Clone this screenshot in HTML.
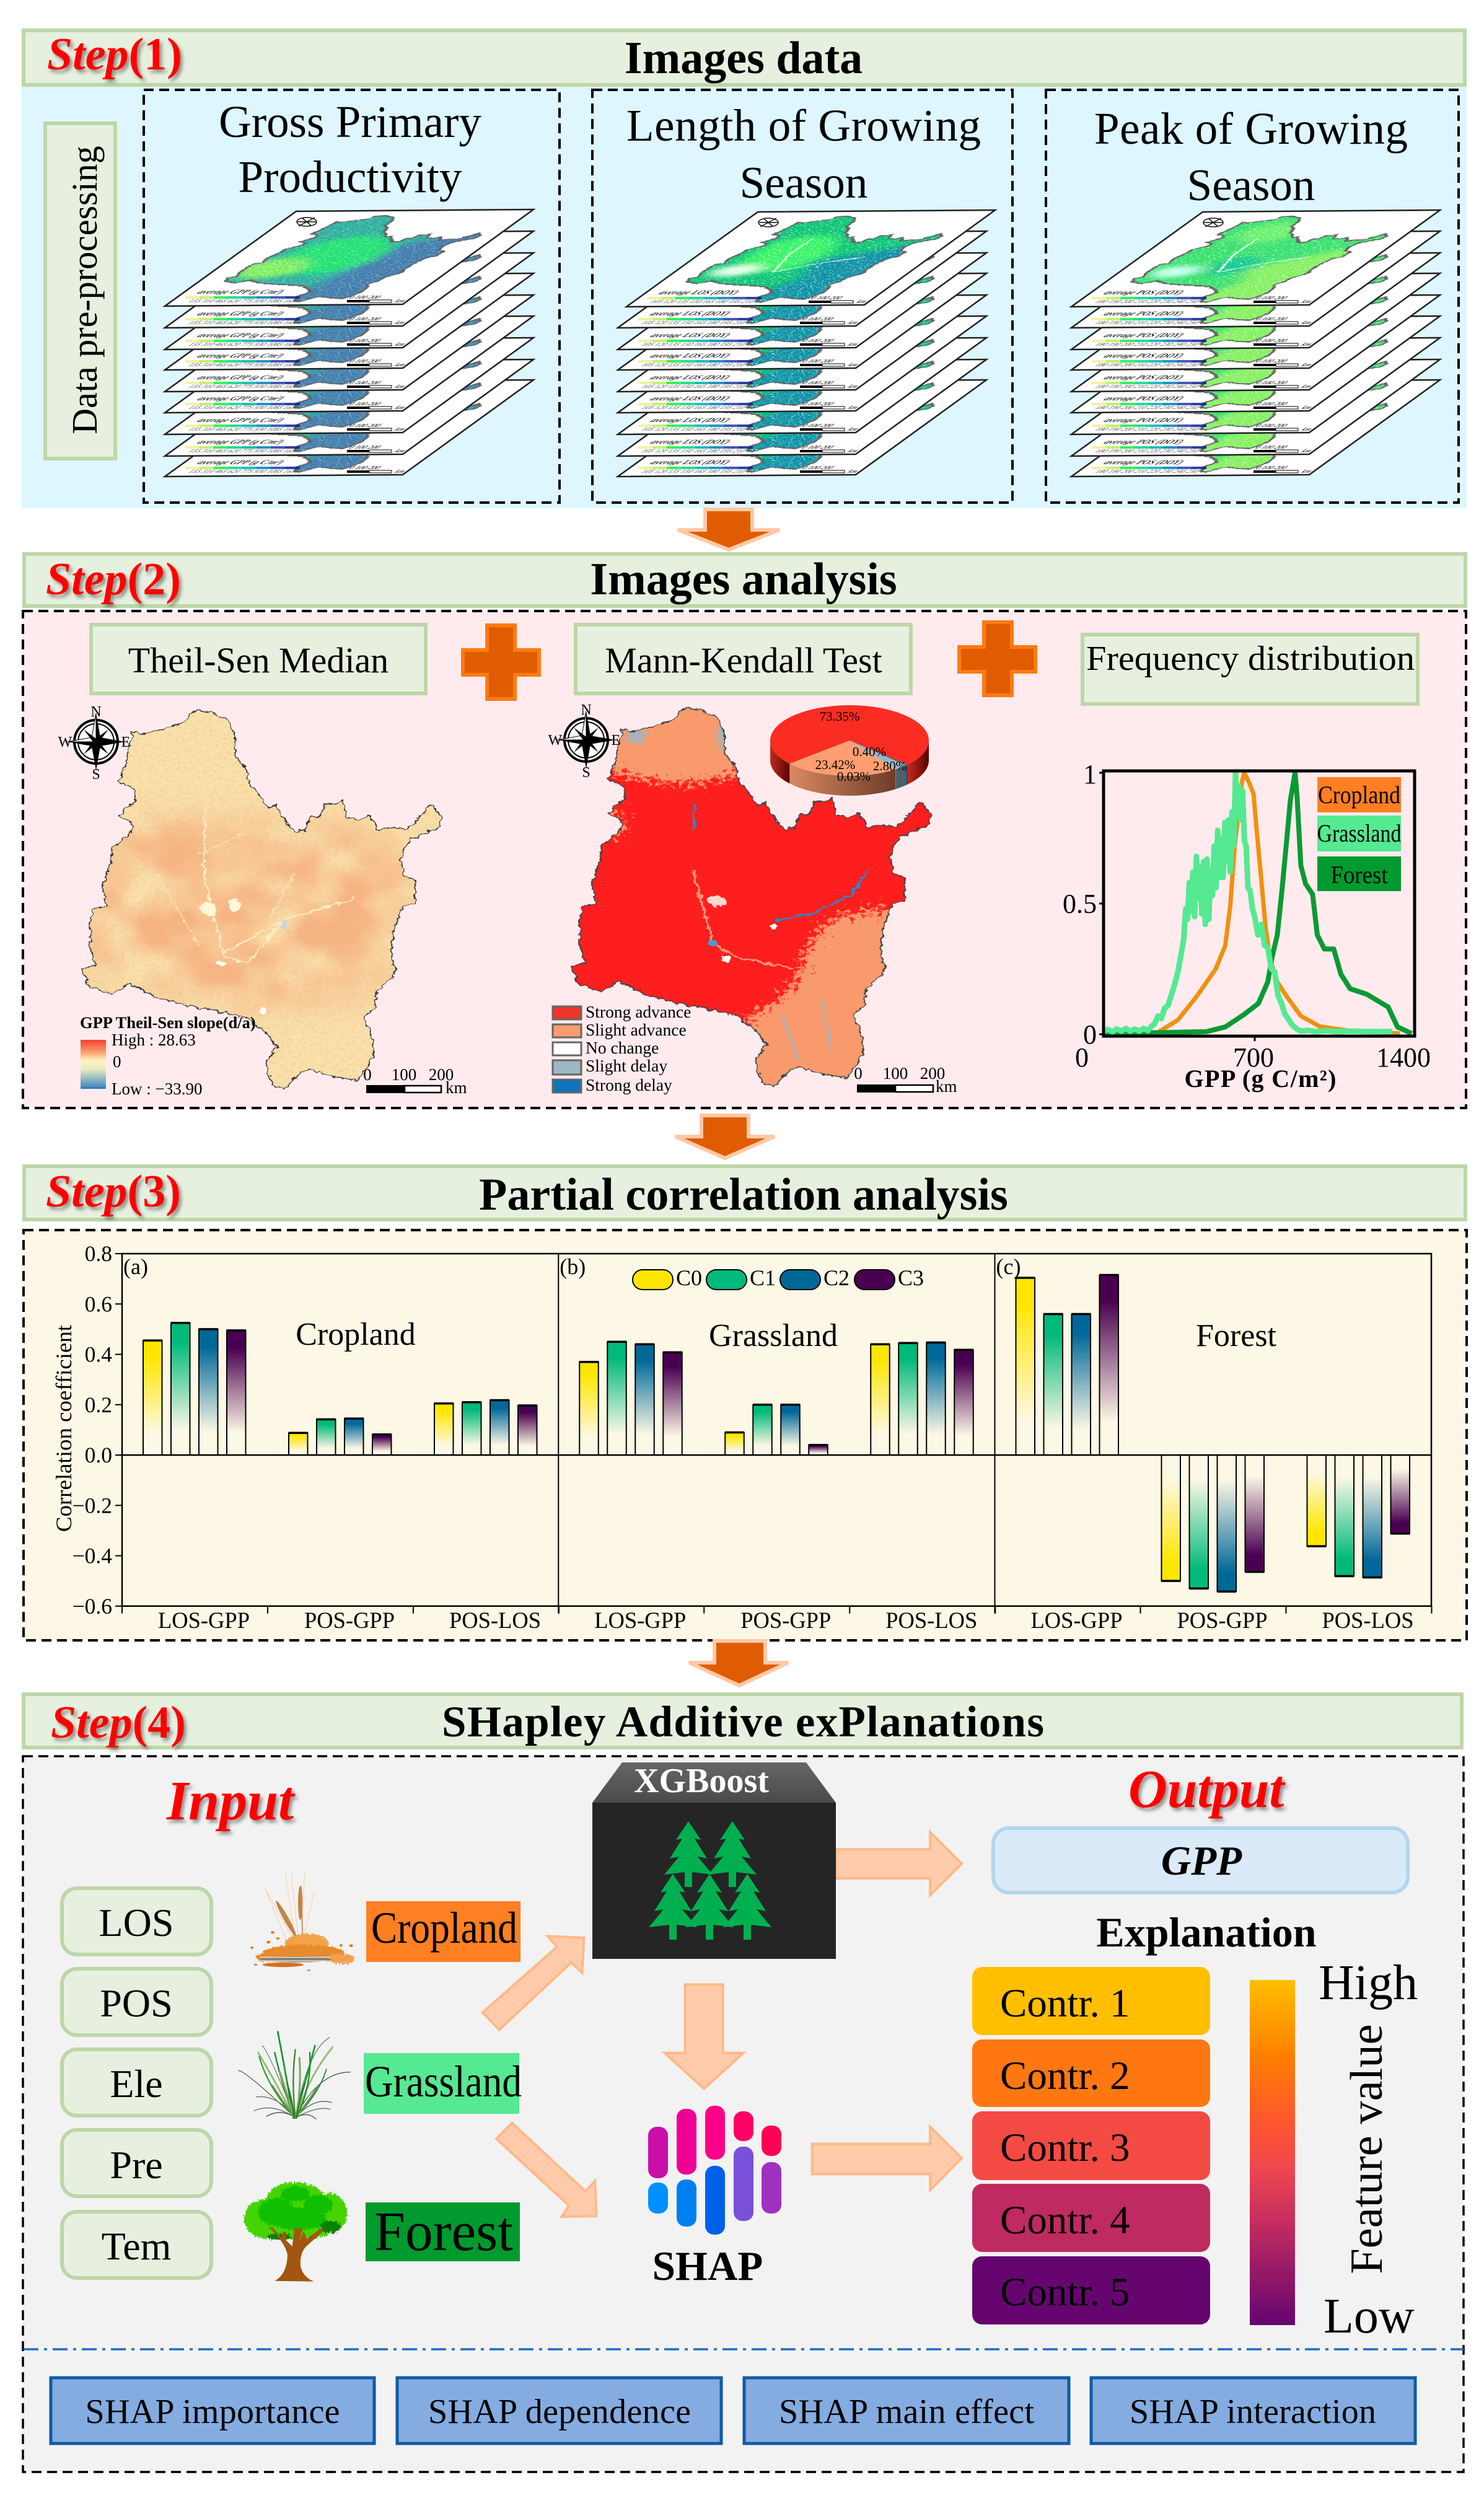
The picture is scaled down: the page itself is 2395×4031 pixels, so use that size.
<!DOCTYPE html>
<html lang="en"><head><meta charset="utf-8"><title>Workflow of GPP phenology analysis</title>
<style>
html,body{margin:0;padding:0;background:#fff}
svg{display:block;font-family:"Liberation Serif","Noto Serif CJK SC",serif}
.b{font-weight:bold}.hdr{fill:#E6F0DF;stroke:#BDD7A8;stroke-width:6}
.box{fill:#E7F0DF;stroke:#BDD7A8;stroke-width:6}
.dash{fill:none;stroke:#000;stroke-width:4;stroke-dasharray:16 9}
.arrow-l{fill:#FFCBAA;stroke:#FFB98A;stroke-width:5}
.arrow-d{fill:#E05C00;stroke:#FFC9A6;stroke-width:6}
.plus{fill:#E05C00;stroke:#FF7A12;stroke-width:6}
.step{fill:#F00;font-weight:bold;font-size:74px;filter:url(#shadow)}
.m{text-anchor:middle}
</style></head><body>
<svg id="canvas" xmlns="http://www.w3.org/2000/svg" width="2395" height="4031" viewBox="0 0 2395 4031">
<defs>
<filter id="shadow" x="-10%" y="-20%" width="125%" height="150%"><feDropShadow dx="4" dy="5" stdDeviation="3" flood-color="#000" flood-opacity=".4"/></filter>
<filter id="blur" x="-60%" y="-60%" width="220%" height="220%"><feGaussianBlur stdDeviation="28"/></filter>
<filter id="edge" x="-5%" y="-5%" width="110%" height="110%" color-interpolation-filters="sRGB"><feTurbulence type="fractalNoise" baseFrequency=".07" numOctaves="3" seed="9" result="n"/><feDisplacementMap in="SourceGraphic" in2="n" scale="16" xChannelSelector="R" yChannelSelector="G"/></filter>
<filter id="leafy" x="-8%" y="-8%" width="116%" height="116%" color-interpolation-filters="sRGB"><feTurbulence type="fractalNoise" baseFrequency=".12" numOctaves="2" seed="5" result="n"/><feDisplacementMap in="SourceGraphic" in2="n" scale="26" xChannelSelector="R" yChannelSelector="G"/></filter>
<filter id="clouds-orange" x="-20%" y="-20%" width="140%" height="140%" color-interpolation-filters="sRGB"><feGaussianBlur in="SourceAlpha" stdDeviation="45" result="b"/><feTurbulence type="fractalNoise" baseFrequency=".009" numOctaves="2" seed="11"/><feColorMatrix values="0 0 0 0 .96  0 0 0 0 .66  0 0 0 0 .48  2.2 0 0 0 -.45"/><feComposite in2="b" operator="in"/></filter>
<filter id="speck-orange" x="0" y="0" width="100%" height="100%" color-interpolation-filters="sRGB"><feTurbulence type="fractalNoise" baseFrequency=".14" numOctaves="2" seed="3"/><feColorMatrix values="0 0 0 0 .97  0 0 0 0 .72  0 0 0 0 .5  3 0 0 0 -1.35"/></filter>
<filter id="speck-dark" x="0" y="0" width="100%" height="100%" color-interpolation-filters="sRGB"><feTurbulence type="fractalNoise" baseFrequency=".1" numOctaves="2" seed="6"/><feColorMatrix values="0 0 0 0 .2  0 0 0 0 .4  0 0 0 0 .65  3.2 0 0 0 -1.4"/></filter>
<filter id="speck-white" x="0" y="0" width="100%" height="100%" color-interpolation-filters="sRGB"><feTurbulence type="fractalNoise" baseFrequency=".12" numOctaves="2" seed="8"/><feColorMatrix values="0 0 0 0 .85  0 0 0 0 1  0 0 0 0 .85  6 0 0 0 -3.5"/></filter>
<filter id="patchy-salmon" x="-20%" y="-20%" width="140%" height="140%" color-interpolation-filters="sRGB"><feGaussianBlur in="SourceAlpha" stdDeviation="38" result="b"/><feTurbulence type="fractalNoise" baseFrequency=".1" numOctaves="4" seed="7"/><feColorMatrix values="0 0 0 0 0  0 0 0 0 0  0 0 0 0 0  0 1 0 0 0" result="na"/><feComposite in="b" in2="na" operator="arithmetic" k1="0" k2=".55" k3=".5" k4="0"/><feComponentTransfer result="mask"><feFuncA type="linear" slope="12" intercept="-5.7"/></feComponentTransfer><feFlood flood-color="#F99A6C"/><feComposite in2="mask" operator="in"/></filter>
<filter id="patchy-grey" x="-40%" y="-40%" width="180%" height="180%" color-interpolation-filters="sRGB"><feGaussianBlur in="SourceAlpha" stdDeviation="12" result="b"/><feTurbulence type="fractalNoise" baseFrequency=".12" numOctaves="3" seed="2"/><feColorMatrix values="0 0 0 0 0  0 0 0 0 0  0 0 0 0 0  0 1 0 0 0" result="na"/><feComposite in="b" in2="na" operator="arithmetic" k1="0" k2=".45" k3=".5" k4="0"/><feComponentTransfer result="mask"><feFuncA type="linear" slope="12" intercept="-5.7"/></feComponentTransfer><feFlood flood-color="#A4B4B8"/><feComposite in2="mask" operator="in"/></filter>
<polygon id="basin" points="405,455 445,458 480,480 495,520 495,575 520,620 525,655 550,690 565,720 582,715 600,755 622,788 645,785 655,745 675,748 683,712 705,712 722,700 732,750 755,755 780,742 800,785 830,775 860,780 885,745 910,712 930,745 928,775 895,790 860,815 845,860 848,900 878,925 875,985 845,1000 832,1060 825,1110 833,1180 795,1225 790,1270 765,1300 780,1330 790,1390 772,1440 755,1472 700,1460 655,1440 625,1460 600,1495 575,1485 560,1420 585,1380 560,1340 520,1300 455,1280 395,1265 330,1245 275,1205 235,1235 185,1210 175,1165 200,1155 190,1100 190,1040 195,1000 225,990 215,935 235,870 235,830 275,795 280,760 250,745 285,700 285,675 250,650 265,600 280,510 300,520 385,490"/>
<clipPath id="basin-clip"><use href="#basin"/></clipPath>
<linearGradient id="grad-theil" x1="0" y1="0" x2="0" y2="1"><stop offset="0" stop-color="#F2402F"/><stop offset=".25" stop-color="#F9A070"/><stop offset=".42" stop-color="#FFF2C0"/><stop offset=".6" stop-color="#E8ECC0"/><stop offset=".95" stop-color="#4F8FBF"/><stop offset="1" stop-color="#1277BC"/></linearGradient>
<linearGradient id="grad-feature" x1="0" y1="0" x2="0" y2="1"><stop offset="0" stop-color="#FFBF00"/><stop offset=".22" stop-color="#FF7F00"/><stop offset=".42" stop-color="#FF5530"/><stop offset=".55" stop-color="#EE4650"/><stop offset=".72" stop-color="#BF2A60"/><stop offset="1" stop-color="#660570"/></linearGradient>
<linearGradient id="facet" x1="0" y1="0" x2="0" y2="1"><stop offset="0" stop-color="#666"/><stop offset="1" stop-color="#4a4a4a"/></linearGradient>
<linearGradient id="wall-salmon" x1="0" y1="0" x2="1" y2="0"><stop offset="0" stop-color="#D88A60"/><stop offset="1" stop-color="#6E3B28"/></linearGradient>
<linearGradient id="wall-red" x1="0" y1="0" x2="1" y2="0"><stop offset="0" stop-color="#C42A1C"/><stop offset="1" stop-color="#580404"/></linearGradient>
<g id="map-gpp">
<g filter="url(#edge)">
<use href="#basin" fill="#30B8A0"/>
<g clip-path="url(#basin-clip)"><g filter="url(#blur)">
<polygon points="560,900 950,650 900,1000 800,1500 500,1500 620,1150" fill="#4480B0"/>
<ellipse cx="470" cy="930" rx="190" ry="230" fill="#22F070"/>
<ellipse cx="290" cy="1070" rx="130" ry="120" fill="#90FF60"/>
</g>
<rect x="170" y="450" width="770" height="1050" filter="url(#speck-dark)" opacity=".4"/>
<rect x="170" y="450" width="770" height="1050" filter="url(#speck-white)" opacity=".6"/>
</g>
<use href="#basin" fill="none" stroke="#666" stroke-width="12"/>
</g>
</g>
<g id="map-los">
<g filter="url(#edge)">
<use href="#basin" fill="#0CC478"/>
<g clip-path="url(#basin-clip)"><g filter="url(#blur)">
<polygon points="560,1000 950,800 900,1000 800,1500 500,1500 620,1200" fill="#1090A8"/>
<ellipse cx="430" cy="900" rx="150" ry="220" fill="#38F468"/>
<ellipse cx="310" cy="1090" rx="90" ry="70" fill="#E6FFE8"/>
</g>
<rect x="170" y="450" width="770" height="1050" filter="url(#speck-white)"/>
</g>
<path d="M432 720L430 900L470 1120L600 1030L750 970" fill="none" stroke="#D8FFE0" stroke-width="8"/>
<use href="#basin" fill="none" stroke="#666" stroke-width="12"/>
</g>
</g>
<g id="map-pos">
<g filter="url(#edge)">
<use href="#basin" fill="#38E070"/>
<g clip-path="url(#basin-clip)"><g filter="url(#blur)">
<polygon points="560,1100 880,850 880,1000 800,1500 500,1500 620,1250" fill="#86F060"/>
<ellipse cx="450" cy="650" rx="120" ry="120" fill="#6CF070"/>
<ellipse cx="300" cy="1100" rx="90" ry="70" fill="#C8FFF0"/>
<ellipse cx="500" cy="1050" rx="90" ry="110" fill="#14C890"/>
</g>
<rect x="170" y="450" width="770" height="1050" filter="url(#speck-white)"/>
</g>
<path d="M432 720L430 900L470 1120L600 1030L750 970" fill="none" stroke="#E4FFF0" stroke-width="8"/>
<use href="#basin" fill="none" stroke="#666" stroke-width="12"/>
</g>
</g>
<g id="sheet-legend-bar" opacity=".85">
<rect x="299" y="478" width="23" height="4" fill="#EEF090"/><rect x="322" y="478" width="23" height="4" fill="#B8F050"/><rect x="345" y="478" width="23" height="4" fill="#10F040"/><rect x="368" y="478" width="23" height="4" fill="#00D880"/><rect x="391" y="478" width="23" height="4" fill="#00B0B0"/><rect x="414" y="478" width="23" height="4" fill="#0080C0"/><rect x="437" y="478" width="23" height="4" fill="#2040B0"/><rect x="460" y="478" width="24" height="4" fill="#102090"/>
</g>
<g id="sheet-base">
<polygon points="478,341 861,338 650,491 266,494" fill="#fff" stroke="#222" stroke-width="2.5"/>
</g>
<g id="sheet-extras">
<use href="#sheet-legend-bar"/>
<rect x="560" y="484" width="36" height="4" fill="#000"/><rect x="596" y="484" width="36" height="4" fill="#fff" stroke="#000"/>
<text transform="matrix(1 0 -.8 .65 562 482)" font-size="12" font-style="italic">0    100    200</text>
<text transform="matrix(1 0 -.8 .65 636 488)" font-size="12" font-style="italic">km</text>
<ellipse cx="495" cy="358" rx="16" ry="7" fill="#fff" stroke="#111" stroke-width="1.5"/>
<path d="M482 365L508 351M480 358L510 358M488 352L502 364" stroke="#111" stroke-width="1.5"/>
</g>
<g id="sheet-gpp">
<use href="#sheet-base"/><use href="#map-gpp" transform="matrix(.4266 -.0139 -.1992 .1357 525.8 292.4)"/><use href="#sheet-extras"/>
<text transform="matrix(1 0 -.8 .65 317 474)" font-size="15" font-style="italic" font-weight="bold" fill="#333">average GPP (g C/m²)</text>
<text transform="matrix(1 0 -.8 .65 303 488)" font-size="12" font-style="italic" fill="#555">155 310 465 620 775 930 1085 1634</text>
</g>
<g id="sheet-los">
<use href="#sheet-base"/><use href="#map-los" transform="matrix(.4266 -.0139 -.1992 .1357 525.8 292.4)"/><use href="#sheet-extras"/>
<text transform="matrix(1 0 -.8 .65 317 474)" font-size="15" font-style="italic" font-weight="bold" fill="#333">average LOS (DOY)</text>
<text transform="matrix(1 0 -.8 .65 303 488)" font-size="12" font-style="italic" fill="#555">105 120 135 150 165 180 195 210</text>
</g>
<g id="sheet-pos">
<use href="#sheet-base"/><use href="#map-pos" transform="matrix(.4266 -.0139 -.1992 .1357 525.8 292.4)"/><use href="#sheet-extras"/>
<text transform="matrix(1 0 -.8 .65 317 474)" font-size="15" font-style="italic" font-weight="bold" fill="#333">average POS (DOY)</text>
<text transform="matrix(1 0 -.8 .65 303 488)" font-size="12" font-style="italic" fill="#555">180 190 200 210 220 230 240 250</text>
</g>
<g id="compass">
<circle r="35" fill="#fff" stroke="#000" stroke-width="4"/><circle r="29" fill="none" stroke="#000" stroke-width="2"/>
<polygon points="0,-46 7,-7 46,0 7,7 0,46 -7,7 -46,0 -7,-7" fill="#000"/>
<polygon points="0,-46 0,0 46,0 0,0 0,46 0,0 -46,0 -7,-7" fill="#fff" stroke="#000"/>
<polygon points="20,-20 5,0 20,20 0,5 -20,20 -5,0 -20,-20 0,-5" fill="#000"/>
<text y="-41" class="m" font-size="24">N</text><text y="60" class="m" font-size="24">S</text><text x="-50" y="8" class="m" font-size="24">W</text><text x="48" y="8" class="m" font-size="24">E</text>
</g>
<polygon id="pine" points="0,0 20,30 10,28 30,60 15,57 39,86 6,82 6,106 -6,106 -6,82 -39,86 -15,57 -30,60 -10,28 -20,30" fill="#00B050"/>
</defs>

<rect width="2395" height="4031" fill="#fff"/>

<!-- STEP 1 -->
<g>
<rect x="35" y="139" width="2332" height="681" fill="#DDF6FF"/>
<rect x="38" y="49" width="2326" height="88" class="hdr"/>
<text x="76" y="112" class="step"><tspan font-style="italic">Step</tspan>(1)</text>
<text x="1200" y="118" font-size="74" class="b m">Images data</text>
<rect x="73" y="199" width="113" height="541" class="box"/>
<text transform="translate(156,468) rotate(-90)" font-size="58" class="m">Data pre-processing</text>
<rect x="232" y="145" width="671" height="666" class="dash"/>
<rect x="956" y="145" width="678" height="666" class="dash"/>
<rect x="1688" y="145" width="666" height="666" class="dash"/>
<text x="565" y="221" font-size="73" class="m">Gross Primary</text>
<text x="565" y="310" font-size="73" class="m">Productivity</text>
<text x="1297" y="227" font-size="73" class="m" textLength="572">Length of Growing</text>
<text x="1297" y="319" font-size="73" class="m">Season</text>
<text x="2019" y="232" font-size="73" class="m" textLength="506">Peak of Growing</text>
<text x="2019" y="323" font-size="73" class="m">Season</text>

<g>
<use href="#sheet-gpp" y="275"/>
<use href="#sheet-gpp" y="242"/>
<use href="#sheet-gpp" y="207"/>
<use href="#sheet-gpp" y="172"/>
<use href="#sheet-gpp" y="138"/>
<use href="#sheet-gpp" y="103"/>
<use href="#sheet-gpp" y="70"/>
<use href="#sheet-gpp" y="35"/>
<use href="#sheet-gpp"/>
</g>
<g>
<use href="#sheet-los" x="731" y="275"/>
<use href="#sheet-los" x="731" y="242"/>
<use href="#sheet-los" x="731" y="207"/>
<use href="#sheet-los" x="731" y="172"/>
<use href="#sheet-los" x="731" y="138"/>
<use href="#sheet-los" x="731" y="103"/>
<use href="#sheet-los" x="731" y="70"/>
<use href="#sheet-los" x="731" y="35"/>
<use href="#sheet-los" x="745" y="1"/>
</g>
<g>
<use href="#sheet-pos" x="1463" y="275"/>
<use href="#sheet-pos" x="1463" y="242"/>
<use href="#sheet-pos" x="1463" y="207"/>
<use href="#sheet-pos" x="1463" y="172"/>
<use href="#sheet-pos" x="1463" y="138"/>
<use href="#sheet-pos" x="1463" y="103"/>
<use href="#sheet-pos" x="1463" y="70"/>
<use href="#sheet-pos" x="1463" y="35"/>
<use href="#sheet-pos" x="1463" y="1"/>
</g>
</g>

<polygon class="arrow-d" points="1138,822 1214,822 1214,855 1258,855 1176,887 1094,855 1138,855"/>

<!-- STEP 2 -->
<g>
<rect x="37" y="986" width="2329" height="802" fill="#FFEBEE"/>
<rect x="37" y="986" width="2329" height="802" class="dash"/>
<rect x="39" y="894" width="2326" height="84" class="hdr"/>
<text x="74" y="959" class="step"><tspan font-style="italic">Step</tspan>(2)</text>
<text x="1200" y="959" font-size="74" class="b m">Images analysis</text>
<rect x="147" y="1008" width="540" height="111" class="box"/>
<text x="417" y="1085" font-size="58" class="m">Theil-Sen Median</text>
<rect x="929" y="1008" width="541" height="111" class="box"/>
<text x="1200" y="1085" font-size="58" class="m">Mann-Kendall Test</text>
<rect x="1747" y="1024" width="541" height="112" class="box"/>
<text x="2018" y="1081" font-size="56" class="m" textLength="530" lengthAdjust="spacingAndGlyphs">Frequency distribution</text>
<polygon class="plus" points="786,1009 831,1009 831,1049 870,1049 870,1089 831,1089 831,1128 786,1128 786,1089 747,1089 747,1049 786,1049"/>
<polygon class="plus" points="1588,1004 1633,1004 1633,1044 1671,1044 1671,1084 1633,1084 1633,1122 1588,1122 1588,1084 1548,1084 1548,1044 1588,1044"/>

<!-- Theil-Sen map -->
<g transform="translate(0,880) scale(.7651,.5869)">
<g filter="url(#edge)">
<use href="#basin" fill="#F9E2AC"/>
<g clip-path="url(#basin-clip)">
<polygon points="190,740 850,790 860,1010 790,1230 520,1270 180,1190" filter="url(#clouds-orange)" opacity=".8"/>
<rect x="170" y="450" width="770" height="1050" filter="url(#speck-orange)" opacity=".4"/>
<path d="M432 720L430 900L470 1120L600 1030L750 970M600 1030L520 1150L470 1130" fill="none" stroke="#F9EDC4" stroke-width="3.5"/>
<path d="M420 850L520 790M560 1050L620 900M330 900L420 1100" fill="none" stroke="#F9E0B0" stroke-width="3"/>
<ellipse cx="600" cy="1045" rx="6" ry="14" fill="#BFD8E4"/><ellipse cx="465" cy="1150" rx="10" ry="7" fill="#fff"/><circle cx="555" cy="1280" r="9" fill="#fff"/>
<ellipse cx="440" cy="1000" rx="16" ry="20" fill="#FFF5D8"/><ellipse cx="495" cy="990" rx="12" ry="20" fill="#FFF5D8"/>
</g>
<use href="#basin" fill="none" stroke="#333" stroke-width="2.5"/>
</g>
</g>
<use href="#compass" x="155" y="1197"/>
<text x="129" y="1659" font-size="26.5" class="b">GPP Theil-Sen slope(d/a)</text>
<rect x="130" y="1678" width="41" height="79" fill="url(#grad-theil)"/>
<text x="180" y="1687" font-size="27">High : 28.63</text>
<text x="182" y="1722" font-size="27">0</text>
<text x="180" y="1766" font-size="27">Low : −33.90</text>
<g>
<text x="593" y="1743" font-size="27" class="m">0</text><text x="652" y="1743" font-size="27" class="m">100</text><text x="712" y="1743" font-size="27" class="m">200</text>
<rect x="591" y="1751" width="62" height="13" fill="#000"/><rect x="653" y="1752" width="59" height="11" fill="#fff" stroke="#000" stroke-width="2.5"/>
<text x="719" y="1764" font-size="27">km</text>
</g>

<!-- Mann-Kendall map -->
<g transform="translate(790,876) scale(.7651,.5869)">
<g filter="url(#edge)">
<use href="#basin" fill="#FF1E1E"/>
<g clip-path="url(#basin-clip)">
<ellipse cx="400" cy="540" rx="210" ry="120" filter="url(#patchy-salmon)"/>
<polygon points="700,1040 880,990 860,1200 800,1520 520,1520 520,1320 630,1250" filter="url(#patchy-salmon)"/>
<ellipse cx="250" cy="770" rx="45" ry="50" filter="url(#patchy-salmon)"/>
<ellipse cx="495" cy="530" rx="16" ry="60" filter="url(#patchy-grey)"/>
<ellipse cx="310" cy="530" rx="24" ry="30" filter="url(#patchy-grey)"/>
<path d="M432 720L430 790M600 1040L680 1020L760 970L800 900" fill="none" stroke="#2F86C8" stroke-width="5"/>
<path d="M430 900L470 1100L520 1140L640 1170" fill="none" stroke="#F49878" stroke-width="5"/>
<path d="M620 1300L650 1420M700 1250L720 1400" fill="none" stroke="#9DB6C0" stroke-width="4"/>
<circle cx="470" cy="1100" r="9" fill="#4F98D0"/><circle cx="500" cy="1145" r="9" fill="#fff"/><circle cx="600" cy="1055" r="9" fill="#fff"/><ellipse cx="480" cy="985" rx="20" ry="14" fill="#FFD8D0"/>
</g>
<use href="#basin" fill="none" stroke="#444" stroke-width="3"/>
</g>
</g>
<use href="#compass" x="946" y="1194"/>
<g>
<rect x="892" y="1624" width="46" height="21" fill="#F0342A" stroke="#666" stroke-width="3"/><text x="945" y="1642" font-size="27.5">Strong advance</text>
<rect x="892" y="1653" width="46" height="21" fill="#FA9C70" stroke="#666" stroke-width="3"/><text x="945" y="1671" font-size="27.5">Slight advance</text>
<rect x="892" y="1682" width="46" height="21" fill="#fff" stroke="#666" stroke-width="3"/><text x="945" y="1700" font-size="27.5">No change</text>
<rect x="892" y="1711" width="46" height="23" fill="#9DB8C2" stroke="#666" stroke-width="3"/><text x="945" y="1729" font-size="27.5">Slight delay</text>
<rect x="892" y="1742" width="46" height="21" fill="#0F74BC" stroke="#666" stroke-width="3"/><text x="945" y="1760" font-size="27.5">Strong delay</text>
</g>
<g>
<text x="1385" y="1741" font-size="27" class="m">0</text><text x="1445" y="1741" font-size="27" class="m">100</text><text x="1505" y="1741" font-size="27" class="m">200</text>
<rect x="1383" y="1750" width="62" height="13" fill="#000"/><rect x="1445" y="1751" width="61" height="11" fill="#fff" stroke="#000" stroke-width="2.5"/>
<text x="1510" y="1762" font-size="27">km</text>
</g>
<g id="pie-chart"></g>
<g id="freq-chart"></g>
</g>

<polygon class="arrow-d" points="1132,1800 1208,1800 1208,1834 1250,1834 1170,1869 1090,1834 1132,1834"/>

<!-- STEP 3 -->
<g>
<rect x="38" y="1985" width="2329" height="662" fill="#FDF8E6"/>
<rect x="38" y="1985" width="2329" height="662" class="dash"/>
<rect x="39" y="1882" width="2326" height="86" class="hdr"/>
<text x="74" y="1947" class="step"><tspan font-style="italic">Step</tspan>(3)</text>
<text x="1200" y="1952" font-size="74" class="b m">Partial correlation analysis</text>
<defs id="bar-defs"></defs>
<g id="bar-chart"></g>
</g>

<polygon class="arrow-d" points="1153,2648 1235,2648 1235,2683 1272,2683 1193,2720 1112,2683 1153,2683"/>

<!-- STEP 4 -->
<g>
<rect x="37" y="2834" width="2325" height="1155" fill="#F2F2F2"/>
<rect x="37" y="2834" width="2325" height="1155" class="dash" style="stroke-width:3.5"/>
<rect x="38" y="2734" width="2321" height="86" class="hdr"/>
<text x="82" y="2804" class="step"><tspan font-style="italic">Step</tspan>(4)</text>
<text x="1199" y="2802" font-size="71" class="b m" textLength="972">SHapley Additive exPlanations</text>
<line x1="38" y1="3791" x2="2362" y2="3791" stroke="#1F6FC0" stroke-width="3.5" stroke-dasharray="24 9 5 9"/>
<text x="269" y="2936" font-size="90" class="b" font-style="italic" fill="#F00" filter="url(#shadow)">Input</text>
<text x="1821" y="2916" font-size="87" class="b" font-style="italic" fill="#F00" filter="url(#shadow)">Output</text>

<rect x="100" y="3047" width="241" height="107" rx="24" class="box"/><text x="220" y="3124" font-size="64" class="m">LOS</text>
<rect x="100" y="3177" width="241" height="107" rx="24" class="box"/><text x="220" y="3254" font-size="64" class="m">POS</text>
<rect x="100" y="3307" width="241" height="107" rx="24" class="box"/><text x="220" y="3384" font-size="64" class="m">Ele</text>
<rect x="100" y="3437" width="241" height="107" rx="24" class="box"/><text x="220" y="3515" font-size="64" class="m">Pre</text>
<rect x="100" y="3569" width="241" height="107" rx="24" class="box"/><text x="220" y="3646" font-size="64" class="m">Tem</text>

<!-- icons drawn in a local frame -->
<g transform="translate(380,3000) scale(.3333,.4464)">
<g>
<path d="M290 300L240 40M320 300L335 45M305 290L270 50M330 290L380 120M280 290L135 95M250 300L150 120" fill="none" stroke="#F3D9B8" stroke-width="4"/>
<path d="M325 290L318 100M300 285L200 155" fill="none" stroke="#C08A5A" stroke-width="5"/>
<ellipse cx="314" cy="158" rx="11" ry="62" fill="#C2844A"/>
<ellipse cx="245" cy="215" rx="11" ry="80" fill="#C2844A" transform="rotate(-37 245 215)"/>
<g filter="url(#leafy)">
<ellipse cx="345" cy="305" rx="105" ry="36" fill="#F2A24A"/>
<ellipse cx="330" cy="340" rx="200" ry="30" fill="#E98A2C"/>
<ellipse cx="510" cy="360" rx="70" ry="18" fill="#F0A050"/>
<ellipse cx="150" cy="355" rx="55" ry="14" fill="#E98A2C"/>
</g>
<ellipse cx="290" cy="362" rx="175" ry="11" fill="#8C8074"/>
<path d="M120 355H460M125 368H450" stroke="#F0ECE6" stroke-width="3"/>
<ellipse cx="230" cy="382" rx="100" ry="8" fill="#D86F1C"/>
<ellipse cx="180" cy="265" rx="9" ry="5" fill="#E87720"/><ellipse cx="160" cy="300" rx="10" ry="5" fill="#E87720"/><ellipse cx="205" cy="287" rx="9" ry="4" fill="#E87720"/><ellipse cx="80" cy="320" rx="8" ry="4" fill="#E87720"/><ellipse cx="560" cy="313" rx="9" ry="5" fill="#E87720"/><ellipse cx="511" cy="312" rx="7" ry="5" fill="#E87720"/><ellipse cx="355" cy="402" rx="8" ry="3" fill="#E87720"/><ellipse cx="98" cy="382" rx="9" ry="4" fill="#C89060"/>
</g>
<g fill="none" stroke-linecap="round">
<path d="M290 935Q40 760 15 765" stroke="#3F5F3F" stroke-width="3"/><path d="M290 935Q400 770 555 770" stroke="#3F5F3F" stroke-width="3"/>
<path d="M290 935Q150 680 130 675" stroke="#4F6F4F" stroke-width="3"/><path d="M290 935Q350 690 455 645" stroke="#4F6F4F" stroke-width="3"/>
<path d="M290 935Q180 880 90 910" stroke="#4A6A4A" stroke-width="3"/><path d="M290 935Q380 860 465 880" stroke="#4A6A4A" stroke-width="3"/>
<path d="M290 935Q200 850 100 860" stroke="#5A7A5A" stroke-width="3"/><path d="M290 935Q400 890 460 905" stroke="#5A7A5A" stroke-width="3"/>
<path d="M290 935Q220 900 150 930" stroke="#3A5A3A" stroke-width="3"/><path d="M290 935Q350 910 390 940" stroke="#3A5A3A" stroke-width="3"/>
<path d="M280 935Q240 760 205 625" stroke="#13982A" stroke-width="8"/>
<path d="M285 935Q190 800 110 700" stroke="#9ABB74" stroke-width="8"/>
<path d="M295 935Q350 790 470 680" stroke="#9ABB74" stroke-width="8"/>
<path d="M290 935Q340 800 385 675" stroke="#17A030" stroke-width="8"/>
<path d="M285 935Q230 830 190 700" stroke="#1E8C2A" stroke-width="7"/>
<path d="M295 935Q370 820 360 700" stroke="#1E8C2A" stroke-width="7"/>
<path d="M290 935Q270 800 290 690" stroke="#3A8A30" stroke-width="7"/>
<path d="M290 935Q160 830 115 715" stroke="#1E9A2A" stroke-width="6"/>
<path d="M292 935Q320 830 310 720" stroke="#80A860" stroke-width="9"/>
<path d="M285 935Q250 850 215 770" stroke="#80A860" stroke-width="9"/>
<path d="M290 935Q410 840 440 760" stroke="#2A7A2A" stroke-width="5"/>
<path d="M290 935Q230 880 180 820" stroke="#6E9450" stroke-width="7"/>
<path d="M290 935Q350 880 400 820" stroke="#6E9450" stroke-width="7"/>
<path d="M285 935Q275 870 250 810" stroke="#2A7A2A" stroke-width="7"/>
<path d="M295 935Q310 870 335 810" stroke="#2A7A2A" stroke-width="7"/>
</g>
<g>
<g filter="url(#leafy)">
<ellipse cx="150" cy="1300" rx="108" ry="72" fill="#46D400"/>
<ellipse cx="290" cy="1230" rx="140" ry="62" fill="#46D400"/>
<ellipse cx="450" cy="1280" rx="90" ry="72" fill="#46D400"/>
<ellipse cx="300" cy="1320" rx="200" ry="55" fill="#46D400"/>
<ellipse cx="200" cy="1275" rx="90" ry="50" fill="#10C000"/>
<ellipse cx="300" cy="1300" rx="140" ry="40" fill="#10C000"/>
<ellipse cx="400" cy="1250" rx="70" ry="36" fill="#10C000"/>
<ellipse cx="290" cy="1210" rx="70" ry="28" fill="#10C000"/>
<ellipse cx="460" cy="1330" rx="50" ry="22" fill="#0A8000"/>
<ellipse cx="210" cy="1365" rx="60" ry="12" fill="#0A8000"/>
</g>
<path d="M190 1525Q250 1500 252 1430Q240 1385 160 1330L180 1332L225 1370L230 1345L245 1350L245 1378L275 1400L285 1335L325 1335L310 1380L330 1345L345 1372L420 1332L425 1345L350 1395Q310 1420 315 1470Q325 1510 380 1527Z" fill="#A3560F"/>
</g>
</g>
<rect x="591" y="3068" width="249" height="98" fill="#FF7F22"/>
<text x="599" y="3135" font-size="72" textLength="236" lengthAdjust="spacingAndGlyphs">Cropland</text>
<rect x="587" y="3313" width="251" height="98" fill="#55E992"/>
<text x="589" y="3383" font-size="72" textLength="253" lengthAdjust="spacingAndGlyphs">Grassland</text>
<rect x="590" y="3554" width="249" height="95" fill="#009A2E"/>
<text x="604" y="3631" font-size="90" textLength="224" lengthAdjust="spacingAndGlyphs">Forest</text>

<g transform="translate(0,2700) scale(.7651,.8489)">
<polygon class="arrow-l" points="1018,645 1175,520 1155,500 1232,503 1228,570 1205,550 1053,678"/>
<polygon class="arrow-l" points="1080,855 1047,885 1200,1012 1185,1033 1258,1032 1255,965 1235,985"/>
<polygon class="arrow-l" points="1445,592 1525,592 1525,722 1568,722 1485,790 1402,722 1445,722"/>
</g>
<g transform="translate(1200,2700) scale(.7622,.8489)">
<polygon class="arrow-l" points="195,335 395,335 395,302 462,362 395,422 395,390 195,390"/>
<polygon class="arrow-l" points="145,895 395,895 395,862 462,922 395,983 395,952 145,952"/>
</g>

<g>
<polygon points="1004,2844 1301,2844 1349,2909 956,2909" fill="url(#facet)"/>
<rect x="956" y="2909" width="393" height="252" fill="#252525"/>
<text x="1132" y="2892" font-size="56" class="b m" fill="#fff">XGBoost</text>
<use href="#pine" x="1111" y="2939"/><use href="#pine" x="1182" y="2939"/>
<use href="#pine" x="1086" y="3024"/><use href="#pine" x="1145" y="3024"/><use href="#pine" x="1206" y="3024"/>
</g>

<g>
<rect x="1046" y="3432" width="32" height="83" rx="14" fill="#C90FA8"/><rect x="1046" y="3522" width="32" height="50" rx="14" fill="#0090FF"/>
<rect x="1092" y="3403" width="32" height="106" rx="14" fill="#EE0095"/><rect x="1092" y="3517" width="32" height="76" rx="14" fill="#0080F0"/>
<rect x="1138" y="3398" width="32" height="87" rx="14" fill="#FF0088"/><rect x="1138" y="3495" width="32" height="111" rx="14" fill="#0060E8"/>
<rect x="1184" y="3407" width="32" height="48" rx="14" fill="#FF0066"/><rect x="1184" y="3464" width="32" height="120" rx="14" fill="#7A50D8"/>
<rect x="1229" y="3430" width="32" height="49" rx="14" fill="#FF0055"/><rect x="1229" y="3489" width="32" height="83" rx="14" fill="#A030C0"/>
</g>
<text x="1142" y="3679" font-size="67" class="b m">SHAP</text>

<rect x="1603" y="2950" width="669" height="104" rx="25" fill="#DAEAF8" stroke="#B4D6EC" stroke-width="6"/>
<text x="1939" y="3025" font-size="67" class="b m" font-style="italic">GPP</text>
<text x="1947" y="3141" font-size="68" class="b m">Explanation</text>

<rect x="1569" y="3174" width="384" height="110" rx="16" fill="#FFBF00"/><text x="1614" y="3254" font-size="65">Contr. 1</text>
<rect x="1569" y="3291" width="384" height="109" rx="16" fill="#FF7710"/><text x="1614" y="3371" font-size="65">Contr. 2</text>
<rect x="1569" y="3407" width="384" height="111" rx="16" fill="#F44A44"/><text x="1614" y="3487" font-size="65">Contr. 3</text>
<rect x="1569" y="3524" width="384" height="110" rx="16" fill="#BF2A60"/><text x="1614" y="3604" font-size="65">Contr. 4</text>
<rect x="1569" y="3641" width="384" height="110" rx="16" fill="#660570"/><text x="1614" y="3720" font-size="65">Contr. 5</text>

<rect x="2017" y="3195" width="73" height="557" fill="url(#grad-feature)"/>
<text x="2128" y="3226" font-size="80">High</text>
<text x="2136" y="3764" font-size="80">Low</text>
<text transform="translate(2230,3468) rotate(-90)" font-size="74.5" class="m">Feature value</text>

<rect x="82" y="3837" width="522" height="106" fill="#84ACE0" stroke="#0F5BA6" stroke-width="5"/><text x="343" y="3910" font-size="56" class="m" textLength="411">SHAP importance</text>
<rect x="641" y="3837" width="523" height="106" fill="#84ACE0" stroke="#0F5BA6" stroke-width="5"/><text x="903" y="3910" font-size="56" class="m" textLength="424">SHAP dependence</text>
<rect x="1201" y="3837" width="524" height="106" fill="#84ACE0" stroke="#0F5BA6" stroke-width="5"/><text x="1463" y="3910" font-size="56" class="m" textLength="412">SHAP main effect</text>
<rect x="1761" y="3837" width="523" height="106" fill="#84ACE0" stroke="#0F5BA6" stroke-width="5"/><text x="2022" y="3910" font-size="56" class="m" textLength="398">SHAP interaction</text>
</g>
</svg>

<script>
// ---- pie data ----
const pieLabels = ['73.35%', '0.40%', '2.80%', '0.03%', '23.42%'];
const pieValues = [73.35, 0.40, 2.80, 0.03, 23.42];
const pieColors = ['#FB2C21', '#1B62A8', '#9DB6C0', '#FFFFFF', '#FF9E70'];
const pieWalls = ['url(#wall-red)', '#1B4468', '#4D5F68', '#BBBBBB', 'url(#wall-salmon)'];
const pieLabelSpots = [[1355, 1163], [1403, 1220], [1436, 1243], [1378, 1260], [1348, 1241]];

// ---- frequency chart data ----
const freqYTicks = [0, 0.5, 1];
const freqXTicks = [0, 700, 1400];
const cropGpp = [250, 335, 420, 505, 548, 570, 590, 601, 622, 633, 654, 675, 686, 707, 729, 750, 782, 824, 888, 973, 1100, 1334];
const cropFreq = [0.01, 0.055, 0.146, 0.25, 0.34, 0.49, 0.715, 0.8, 0.96, 1, 0.965, 0.92, 0.81, 0.62, 0.41, 0.285, 0.2, 0.145, 0.07, 0.03, 0.014, 0.003];
const grassGpp = [0, 20, 40, 60, 80, 100, 120, 140, 160, 180, 200, 215, 230, 245, 260, 275, 290, 305, 320, 335, 350, 360, 370, 378, 386, 394, 402, 410, 418, 426, 434, 442, 450, 458, 466, 474, 482, 490, 498, 506, 514, 522, 530, 538, 546, 554, 562, 570, 578, 586, 594, 602, 610, 618, 626, 634, 642, 650, 660, 670, 680, 695, 710, 725, 740, 755, 770, 785, 800, 815, 830, 850, 870, 890, 920, 960, 1000, 1050, 1100, 1200, 1300];
const grassFreq = [0.012, 0.018, 0.01, 0.02, 0.012, 0.022, 0.012, 0.02, 0.012, 0.022, 0.014, 0.03, 0.04, 0.07, 0.06, 0.1, 0.11, 0.15, 0.19, 0.24, 0.31, 0.36, 0.48, 0.44, 0.58, 0.47, 0.62, 0.45, 0.68, 0.52, 0.64, 0.46, 0.66, 0.42, 0.67, 0.44, 0.63, 0.53, 0.72, 0.56, 0.78, 0.6, 0.75, 0.6, 0.81, 0.66, 0.82, 0.62, 0.85, 0.72, 1, 0.84, 0.95, 0.82, 0.93, 0.74, 0.72, 0.56, 0.55, 0.48, 0.45, 0.38, 0.42, 0.34, 0.33, 0.25, 0.24, 0.15, 0.12, 0.08, 0.06, 0.035, 0.02, 0.012, 0.015, 0.01, 0.014, 0.01, 0.012, 0.01, 0.01];
const forestGpp = [0, 293, 463, 548, 633, 697, 739, 760, 782, 803, 824, 841, 862, 871, 888, 909, 941, 962, 994, 1036, 1068, 1110, 1185, 1281, 1323, 1387];
const forestFreq = [0.002, 0.007, 0.01, 0.028, 0.076, 0.118, 0.2, 0.3, 0.38, 0.55, 0.74, 0.896, 1, 0.91, 0.645, 0.576, 0.535, 0.38, 0.326, 0.326, 0.23, 0.174, 0.153, 0.104, 0.028, 0.003];

// ---- partial correlation data ----
const barYTicks = [0.8, 0.6, 0.4, 0.2, 0, -0.2, -0.4, -0.6];
const pairNames = ['LOS-GPP', 'POS-GPP', 'POS-LOS'];
const classNames = ['C0', 'C1', 'C2', 'C3'];
const classColors = ['#FFE600', '#00B97A', '#006898', '#4A0050'];
const panelNames = ['(a)', '(b)', '(c)'];
const croplandValues = [[0.455, 0.525, 0.50, 0.495], [0.088, 0.142, 0.145, 0.082], [0.205, 0.21, 0.218, 0.197]];
const grasslandValues = [[0.37, 0.45, 0.44, 0.408], [0.09, 0.20, 0.20, 0.04], [0.44, 0.445, 0.447, 0.418]];
const forestValues = [[0.704, 0.56, 0.56, 0.715], [-0.50, -0.53, -0.542, -0.464], [-0.362, -0.481, -0.486, -0.312]];

const NS = 'http://www.w3.org/2000/svg';
function mk(parent, tag, attrs, txt) {
  const e = document.createElementNS(NS, tag);
  for (const k in attrs) e.setAttribute(k, attrs[k]);
  if (txt !== undefined) e.textContent = txt;
  parent.appendChild(e);
  return e;
}

// ---------- PIE ----------
(function () {
  const g = document.getElementById('pie-chart');
  const cx = 1371, cy = 1195, rx = 128, ry = 57, depth = 32, startDeg = 139;
  const total = pieValues.reduce((a, b) => a + b, 0);
  const pt = (d, dy) => { const r = d * Math.PI / 180; return [cx + rx * Math.cos(r), cy + ry * Math.sin(r) + (dy || 0)]; };
  const spans = [];
  let a = startDeg;
  pieValues.forEach(v => { const b = a + v / total * 360; spans.push([a, b]); a = b; });
  function wall(i, a0, b0) {
    if (b0 <= a0) return;
    const p0 = pt(a0), p1 = pt(b0), p2 = pt(b0, depth), p3 = pt(a0, depth);
    const el = mk(g, 'path', { d: `M${p0}A${rx} ${ry} 0 0 1 ${p1}L${p2}A${rx} ${ry} 0 0 0 ${p3}Z`, fill: pieWalls[i] });
    
    
  }
  spans.forEach((s, i) => {
    wall(i, Math.max(s[0], 0), Math.min(s[1], 180));
    wall(i, Math.max(s[0], 360), Math.min(s[1], 540));
  });
  spans.forEach((s, i) => {
    const p0 = pt(s[0]), p1 = pt(s[1]);
    const big = s[1] - s[0] > 180 ? 1 : 0;
    const el = mk(g, 'path', { d: `M${cx} ${cy}L${p0}A${rx} ${ry} 0 ${big} 1 ${p1}Z`, fill: pieColors[i] });
    
    
  });
  pieLabels.forEach((t, i) => {
    const el = mk(g, 'text', { x: pieLabelSpots[i][0], y: pieLabelSpots[i][1], 'font-size': 21, 'text-anchor': 'middle' }, t);
    
    
  });
})();

// ---------- FREQUENCY ----------
(function () {
  const g = document.getElementById('freq-chart');
  const xs = v => 1781 + v * (2283 - 1781) / 1400;
  const ys = v => 1669 - v * (1669 - 1247);
  const line = (X, Y, col, w, name) => {
    const el = mk(g, 'polyline', { points: X.map((x, i) => xs(x) + ',' + ys(Y[i])).join(' '), fill: 'none', stroke: col, 'stroke-width': w, 'stroke-linejoin': 'round' });
    
    
  };
  line(cropGpp, cropFreq, '#F0900F', 7, 'cropland-line');
  line(forestGpp, forestFreq, '#0A9A34', 8, 'forest-line');
  line(grassGpp, grassFreq, '#55E992', 9, 'grassland-line');
  const frame = mk(g, 'rect', { x: 1781, y: 1244, width: 502, height: 428, fill: 'none', stroke: '#000', 'stroke-width': 5 });
  
  
  const yNudge = [15, 15, 17];
  freqYTicks.forEach((v, i) => {
    const t = mk(g, 'line', { x1: 1774, x2: 1781, y1: ys(v), y2: ys(v), stroke: '#000', 'stroke-width': 3 });
    
    
    const l = mk(g, 'text', { x: 1770, y: ys(v) + yNudge[i], 'font-size': 44, 'text-anchor': 'end' }, String(v));
    
    
  });
  const xNudge = [-35, -9, -18];
  freqXTicks.forEach((v, i) => {
    const l = mk(g, 'text', { x: xs(v) + xNudge[i], y: 1721, 'font-size': 44, 'text-anchor': 'middle' }, String(v));
    
    
  });
  const tick = mk(g, 'line', { x1: xs(700) - 7, x2: xs(700) - 7, y1: 1672, y2: 1680, stroke: '#000', 'stroke-width': 3 });
  
  
  const title = mk(g, 'text', { x: 2034, y: 1754, 'font-size': 40, 'font-weight': 'bold', 'text-anchor': 'middle', textLength: 245 }, 'GPP (g C/m²)');
  
  
  const legendRows = [['Cropland', '#FF7F22', 1254, 57, 1296, 133], ['Grassland', '#55E992', 1316, 58, 1358, 136], ['Forest', '#009A2E', 1382, 56, 1425, 92]];
  legendRows.forEach(r => {
    const b = mk(g, 'rect', { x: 2126, y: r[2], width: 135, height: r[3], fill: r[1] });
    
    
    const t = mk(g, 'text', { x: 2193.5 - r[5] / 2, y: r[4], 'font-size': 40, textLength: r[5], lengthAdjust: 'spacingAndGlyphs' }, r[0]);
    
    
  });
})();

// ---------- BARS ----------
(function () {
  const g = document.getElementById('bar-chart');
  const defs = document.getElementById('bar-defs');
  const cream = '#FDF8E6';
  classColors.forEach((c, i) => {
    [['up', 0, 1], ['down', 1, 0]].forEach(dir => {
      const lg = mk(defs, 'linearGradient', { id: 'bar-' + dir[0] + '-' + i, x1: 0, x2: 0, y1: dir[1], y2: dir[2] });
      mk(lg, 'stop', { offset: '0', 'stop-color': c });
      mk(lg, 'stop', { offset: '.14', 'stop-color': c });
      mk(lg, 'stop', { offset: '.82', 'stop-color': cream });
    });
  });
  const left = 197, panelW = 704.25, groupW = 235, barW = 30.5, barStep = 45, barInset = 34;
  const ys = v => 2348 - v * 406.25;
  const panels = [croplandValues, grasslandValues, forestValues];
  panels.forEach((pv, p) => {
    const px = left + p * panelW;
    pv.forEach((vals, gi) => {
      vals.forEach((v, c) => {
        const x = px + barInset + gi * groupW + c * barStep;
        const y = Math.min(ys(v), ys(0));
        const r = mk(g, 'rect', { x: x, y: y, width: barW, height: Math.abs(ys(v) - ys(0)), fill: 'url(#bar-' + (v >= 0 ? 'up' : 'down') + '-' + c + ')', stroke: '#000', 'stroke-width': 2 });
        
        
        const cap = mk(g, 'line', { x1: x, x2: x + barW, y1: ys(v), y2: ys(v), stroke: '#000', 'stroke-width': 3.5 });
        
        
      });
    });
    pairNames.forEach((n, gi) => {
      const t = mk(g, 'text', { x: px + 132 + gi * groupW, y: 2627, 'font-size': 36.5, 'text-anchor': 'middle' }, n);
      
      
    });
    for (let k = 0; k <= 3; k++) {
      const t = mk(g, 'line', { x1: px + k * groupW, x2: px + k * groupW, y1: ys(-0.6), y2: ys(-0.6) + 12, stroke: '#000', 'stroke-width': 2 });
      
      
    }
    const d = mk(g, 'line', { x1: px, x2: px, y1: ys(0.8), y2: ys(-0.6), stroke: '#000', 'stroke-width': 2 });
    
    
    const tag = mk(g, 'text', { x: px + 2, y: 2056, 'font-size': 36 }, panelNames[p]);
    
    
  });
  const frame = mk(g, 'rect', { x: left, y: ys(0.8), width: 2310 - left, height: ys(-0.6) - ys(0.8), fill: 'none', stroke: '#000', 'stroke-width': 2.5 });
  
  
  const zero = mk(g, 'line', { x1: left, x2: 2310, y1: ys(0), y2: ys(0), stroke: '#000', 'stroke-width': 2.5 });
  
  
  barYTicks.forEach(v => {
    const t = mk(g, 'line', { x1: 186, x2: 197, y1: ys(v), y2: ys(v), stroke: '#000', 'stroke-width': 2 });
    
    
    const l = mk(g, 'text', { x: 181, y: ys(v) + 12, 'font-size': 35.5, 'text-anchor': 'end' }, (v < 0 ? '−' : '') + Math.abs(v).toFixed(1));
    
    
  });
  const yt = mk(g, 'text', { transform: 'translate(115,2305) rotate(-90)', 'font-size': 36, 'text-anchor': 'middle', textLength: 334, lengthAdjust: 'spacingAndGlyphs' }, 'Correlation coefficient');
  
  
  const titles = [['Cropland', 574, 2170], ['Grassland', 1248, 2172], ['Forest', 1995, 2172]];
  titles.forEach(r => {
    const t = mk(g, 'text', { x: r[1], y: r[2], 'font-size': 52, 'text-anchor': 'middle' }, r[0]);
    
    
  });
  const legendX = [1021, 1140, 1259, 1379];
  classNames.forEach((n, i) => {
    const r = mk(g, 'rect', { x: legendX[i], y: 2049, width: 65, height: 32, rx: 16, fill: classColors[i], stroke: '#000', 'stroke-width': 2 });
    
    
    const t = mk(g, 'text', { x: legendX[i] + 70, y: 2074, 'font-size': 36 }, n);
    
    
  });
})();
</script>
</body></html>
